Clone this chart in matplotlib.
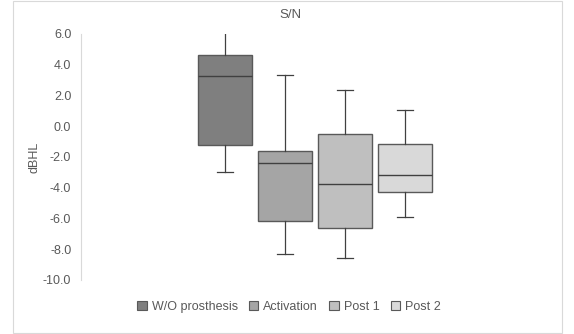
import matplotlib.pyplot as plt
from matplotlib.patches import Rectangle, Patch

plt.rcParams['font.family'] = ['Liberation Sans', 'DejaVu Sans']

# box plot summary values (dBHL)
groups = ["W/O prosthesis", "Activation", "Post 1", "Post 2"]
whisker_low = [-3.0, -8.3, -8.55, -5.9]
q1 = [-1.2, -6.15, -6.6, -4.25]
median = [3.25, -2.4, -3.75, -3.2]
q3 = [4.65, -1.6, -0.5, -1.15]
whisker_high = [6.1, 3.35, 2.35, 1.05]
colors = ["#7f7f7f", "#a5a5a5", "#bfbfbf", "#d9d9d9"]
yticks = [6, 4, 2, 0, -2, -4, -6, -8, -10]

fig = plt.figure(figsize=(5.74, 3.34), dpi=100)
fig.patches.append(Rectangle((13 / 574, 1 / 334), 549 / 574, 332 / 334,
                             transform=fig.transFigure, fill=False,
                             edgecolor="#d9d9d9", linewidth=0.8))

ax = fig.add_axes([81 / 574, 1 - 280 / 334, 468 / 574, 246 / 334])

stats = []
for i, g in enumerate(groups):
    stats.append({"label": g, "whislo": whisker_low[i], "q1": q1[i],
                  "med": median[i], "q3": q3[i], "whishi": whisker_high[i],
                  "fliers": []})

bp = ax.bxp(stats, positions=[1, 2, 3, 4], widths=0.9, patch_artist=True,
            showfliers=False,
            boxprops=dict(edgecolor="#595959", linewidth=1.0),
            medianprops=dict(color="#404040", linewidth=1.0),
            whiskerprops=dict(color="#404040", linewidth=0.9),
            capprops=dict(color="#404040", linewidth=0.9),
            capwidths=0.27)
for patch, c in zip(bp["boxes"], colors):
    patch.set_facecolor(c)

ax.set_xlim(-1.405, 6.395)
ax.set_ylim(-10, 6)
ax.set_yticks(yticks)
ax.set_yticklabels([f"{v:.1f}" for v in yticks])
ax.set_xticks([])
for s in ["top", "right", "bottom"]:
    ax.spines[s].set_visible(False)
ax.spines["left"].set_color("#d9d9d9")
ax.spines["left"].set_linewidth(0.8)
ax.tick_params(axis="y", length=0, labelsize=9, labelcolor="#595959", pad=7)

ax.set_ylabel("dBHL", fontsize=9, color="#595959", labelpad=2)
fig.text(290 / 574, 1 - 15 / 334, "S/N", ha="center", va="center",
         fontsize=9.5, color="#595959")

handles = [Patch(facecolor=c, edgecolor="#595959", linewidth=0.8) for c in colors]
fig.legend(handles, groups, loc="center", bbox_to_anchor=(289 / 574, 1 - 307 / 334),
           ncol=4, frameon=False, fontsize=9, handlelength=0.75, handleheight=0.75,
           handletextpad=0.4, columnspacing=0.9, labelcolor="#595959")

fig.savefig("out.png", dpi=100)
